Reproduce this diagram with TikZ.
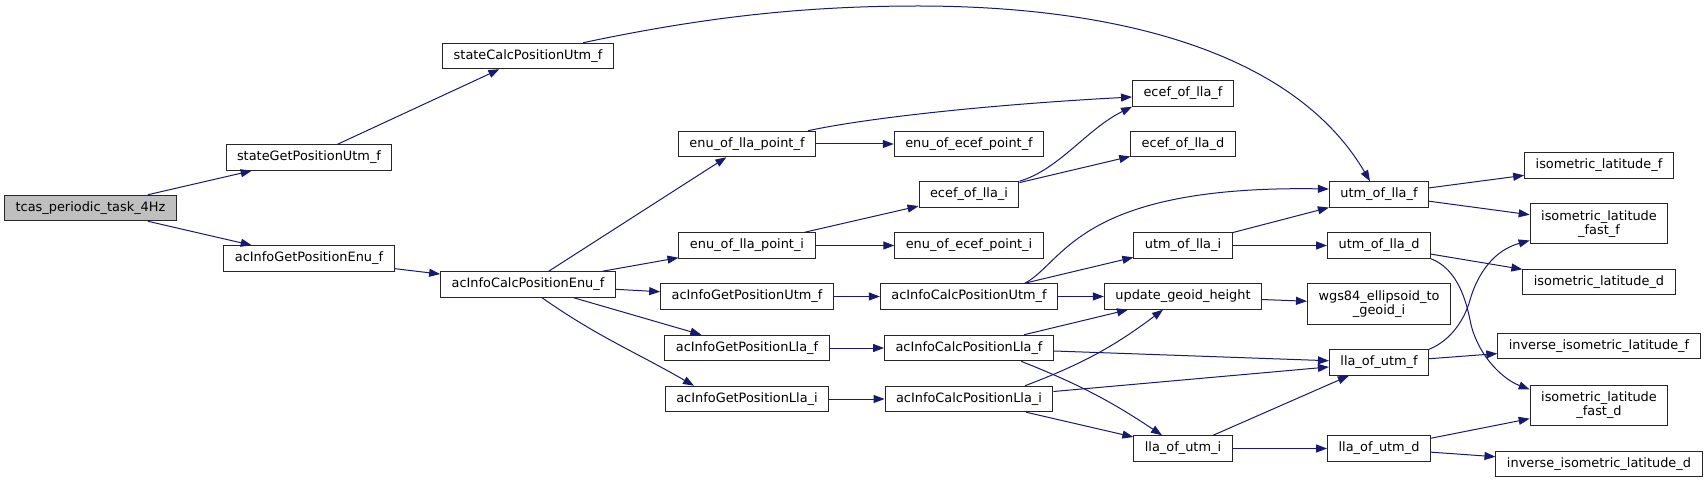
\documentclass[tikz,border=0pt]{standalone}
\usepackage{fontspec}
\usepackage{tikz}
\usetikzlibrary{arrows.meta}
\newfontfamily\dxfont{DejaVu Sans}
\definecolor{edgeblue}{HTML}{191970}
\definecolor{rootgray}{HTML}{BFBFBF}
\tikzset{
  fnbox/.style   = {draw=black!85, line width=1bp, fill=white, inner xsep=11bp,
                    inner ysep=2bp, minimum height=25.5bp,
                    font={\dxfont\fontsize{12.9bp}{14.5bp}\selectfont}},
  fnboxtwo/.style = {fnbox, align=center, minimum height=40bp},
  rootbox/.style = {fnbox, fill=rootgray},
  call/.style    = {draw=edgeblue, line width=1bp, -{Triangle[length=11bp,width=8bp]}},
}

\begin{document}
\begin{tikzpicture}[x=1bp,y=1bp]
  \path[use as bounding box, fill=white] (0,0) rectangle (1707,-483);

  \node[rootbox] (tcas) at (90.5,-208) {tcas\_periodic\_task\_4Hz};
  \node[fnbox] (sGPU) at (309,-157.5) {stateGetPositionUtm\_f};
  \node[fnbox] (aGPE) at (309,-258.5) {acInfoGetPositionEnu\_f};
  \node[fnbox] (sCPU) at (528,-56) {stateCalcPositionUtm\_f};
  \node[fnbox] (aCPE) at (528,-284.5) {acInfoCalcPositionEnu\_f};

  \node[fnbox] (enuLlaF) at (747,-144) {enu\_of\_lla\_point\_f};
  \node[fnbox] (enuLlaI) at (747,-245.5) {enu\_of\_lla\_point\_i};
  \node[fnbox] (aGPU) at (747,-296.5) {acInfoGetPositionUtm\_f};
  \node[fnbox] (aGPLf) at (747,-348) {acInfoGetPositionLla\_f};
  \node[fnbox] (aGPLi) at (747,-399) {acInfoGetPositionLla\_i};

  \node[fnbox] (enuEcefF) at (969,-144) {enu\_of\_ecef\_point\_f};
  \node[fnbox] (ecefLlaI) at (969,-194.5) {ecef\_of\_lla\_i};
  \node[fnbox] (enuEcefI) at (969,-245.5) {enu\_of\_ecef\_point\_i};
  \node[fnbox] (aCPU) at (969,-296.5) {acInfoCalcPositionUtm\_f};
  \node[fnbox] (aCPLf) at (969,-348) {acInfoCalcPositionLla\_f};
  \node[fnbox] (aCPLi) at (969,-399) {acInfoCalcPositionLla\_i};

  \node[fnbox] (ecefLlaF) at (1183,-93.5) {ecef\_of\_lla\_f};
  \node[fnbox] (ecefLlaD) at (1183,-144) {ecef\_of\_lla\_d};
  \node[fnbox] (utmLlaI) at (1183,-245.5) {utm\_of\_lla\_i};
  \node[fnbox] (geoid) at (1183,-296.5) {update\_geoid\_height};
  \node[fnbox] (llaUtmI) at (1183,-448.5) {lla\_of\_utm\_i};

  \node[fnbox] (utmLlaF) at (1379,-194.5) {utm\_of\_lla\_f};
  \node[fnbox] (utmLlaD) at (1379,-245.5) {utm\_of\_lla\_d};
  \node[fnboxtwo] (wgs) at (1379,-304) {wgs84\_ellipsoid\_to\\\_geoid\_i};
  \node[fnbox] (llaUtmF) at (1379,-362.5) {lla\_of\_utm\_f};
  \node[fnbox] (llaUtmD) at (1379,-448.5) {lla\_of\_utm\_d};

  \node[fnbox] (isoF) at (1599,-165.5) {isometric\_latitude\_f};
  \node[fnboxtwo] (isoFastF) at (1599,-224) {isometric\_latitude\\\_fast\_f};
  \node[fnbox] (isoD) at (1599,-282) {isometric\_latitude\_d};
  \node[fnbox] (invF) at (1599,-346) {inverse\_isometric\_latitude\_f};
  \node[fnboxtwo] (isoFastD) at (1599,-405) {isometric\_latitude\\\_fast\_d};
  \node[fnbox] (invD) at (1599,-464) {inverse\_isometric\_latitude\_d};

  % calls
  \draw[call] (tcas) -- (sGPU);
  \draw[call] (tcas) -- (aGPE);
  \draw[call] (sGPU) -- (sCPU);
  \draw[call] ([xshift=55bp]sCPU.north) .. controls (700,-18) and (800,-6) .. (918,-6)
    .. controls (1100,-6) and (1290,-45) .. ([xshift=-9bp]utmLlaF.north);
  \draw[call] (aGPE) -- (aCPE);
  \draw[call] (aCPE) -- (enuLlaF);
  \draw[call] (aCPE) -- (enuLlaI);
  \draw[call] (aCPE) -- (aGPU);
  \draw[call] (aCPE) -- (aGPLf);
  \draw[call] ([xshift=14bp]aCPE.south) to[out=-35,in=150] ([xshift=-53bp]aGPLi.north);

  \draw[call] (enuLlaF) -- (enuEcefF);
  \draw[call] ([xshift=61bp]enuLlaF.north) .. controls +(55,12) and +(-150,-8) .. ([yshift=-3.5bp]ecefLlaF.west);
  \draw[call] (enuLlaI) -- (ecefLlaI);
  \draw[call] (enuLlaI) -- (enuEcefI);
  \draw[call] (aGPU) -- (aCPU);
  \draw[call] (aGPLf) -- (aCPLf);
  \draw[call] (aGPLi) -- (aCPLi);

  \draw[call] (ecefLlaI.north east) .. controls +(40,12) and +(-45,-22) .. (ecefLlaF.south west);
  \draw[call] (ecefLlaI) -- (ecefLlaD);
  \draw[call] ([xshift=56bp]aCPU.north) .. controls +(40,22) and +(-250,4) .. ([yshift=5.5bp]utmLlaF.west);
  \draw[call] (aCPU) -- (utmLlaI);
  \draw[call] (aCPU) -- (geoid);
  \draw[call] (aCPLf) -- (geoid);
  \draw[call] (aCPLf) -- (llaUtmF);
  \draw[call] ([xshift=52bp]aCPLf.south) to[bend left=6] ([xshift=-21bp]llaUtmI.north);
  \draw[call] ([xshift=56bp]aCPLi.north) to[bend right=8] ([xshift=-20bp]geoid.south);
  \draw[call] (aCPLi) -- (llaUtmF);
  \draw[call] (aCPLi) -- (llaUtmI);

  \draw[call] (utmLlaI) -- (utmLlaF);
  \draw[call] (utmLlaI) -- (utmLlaD);
  \draw[call] (geoid) -- (wgs);
  \draw[call] (llaUtmI) -- (llaUtmF);
  \draw[call] (llaUtmI) -- (llaUtmD);

  \draw[call] (utmLlaF) -- (isoF);
  \draw[call] (utmLlaF) -- (isoFastF);
  \draw[call] (utmLlaD) -- (isoD);
  \draw[call] (utmLlaD.south east) .. controls (1455,-268) and (1465,-295) .. (1470,-320)
    .. controls (1476,-352) and (1500,-378) .. ([yshift=-5bp]isoFastD.north west);
  \draw[call] (llaUtmF.north east) .. controls (1452,-340) and (1465,-318) .. (1470,-300)
    .. controls (1478,-272) and (1495,-250) .. ([yshift=4bp]isoFastF.south west);
  \draw[call] (llaUtmF) -- (invF);
  \draw[call] (llaUtmD) -- (isoFastD);
  \draw[call] (llaUtmD) -- (invD);
\end{tikzpicture}
\end{document}
